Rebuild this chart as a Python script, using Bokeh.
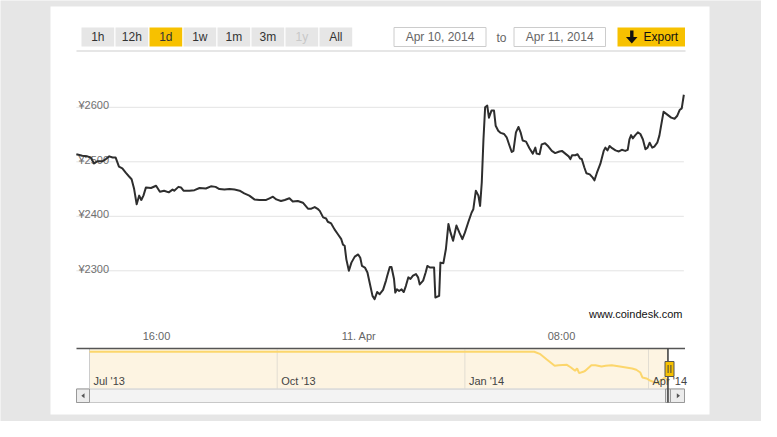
import pandas as pd
from bokeh.plotting import figure
from bokeh.models import Range1d
from bokeh.core.properties import value
from bokeh.embed import file_html
from bokeh.resources import INLINE

# ---------------- data ----------------
start_time = "2014-04-10 12:50"
minutes = [0, 14, 26, 34, 42, 50, 62, 70, 78, 86, 93, 101, 109, 117, 125, 131, 137, 143, 149, 154,
           159, 165, 177, 189, 198, 208, 219, 228, 232, 242, 248, 254, 268, 280, 292, 307, 319, 330,
           339, 351, 363, 375, 387, 398, 410, 422, 434, 450, 458, 466, 474, 485, 494, 505, 513, 525,
           537, 549, 557, 565, 573, 577, 585, 592, 596, 604, 612, 620, 628, 632, 636, 640, 646, 652,
           660, 668, 673, 677, 684, 690, 695, 702, 707, 713, 719, 727, 734, 737, 743, 747, 753, 756,
           760, 765, 771, 776, 781, 787, 792, 798, 805, 810, 814, 822, 828, 832, 838, 848, 851, 860,
           863, 870, 876, 882, 887, 893, 901, 908, 915, 921, 929, 937, 941, 947, 953, 957, 961, 965,
           969, 974, 978, 984, 990, 994, 1000, 1006, 1014, 1020, 1027, 1032, 1036, 1042, 1048, 1053,
           1058, 1066, 1074, 1082, 1088, 1091, 1098, 1103, 1111, 1119, 1127, 1135, 1145, 1151, 1159,
           1167, 1171, 1175, 1183, 1188, 1194, 1198, 1204, 1209, 1217, 1224, 1228, 1234, 1242, 1250,
           1254, 1259, 1264, 1270, 1278, 1286, 1293, 1301, 1307, 1311, 1315, 1319, 1325, 1331, 1337,
           1343, 1349, 1354, 1359, 1365, 1370, 1377, 1382, 1386, 1392, 1400, 1410, 1418, 1424, 1430,
           1435, 1440]
prices = [2514, 2511, 2510, 2508, 2497, 2501, 2501, 2505, 2510, 2508, 2508, 2491, 2488, 2480, 2473,
          2468, 2450, 2422, 2438, 2430, 2438, 2453, 2452, 2456, 2445, 2447, 2444, 2449, 2447, 2454,
          2453, 2447, 2447, 2448, 2452, 2451, 2455, 2454, 2450, 2449, 2450, 2449, 2447, 2442, 2438,
          2431, 2430, 2430, 2433, 2436, 2431, 2428, 2430, 2433, 2427, 2428, 2425, 2414, 2414, 2417,
          2413, 2410, 2398, 2396, 2390, 2387, 2376, 2367, 2358, 2348, 2346, 2321, 2300, 2315, 2326,
          2330, 2324, 2309, 2306, 2297, 2279, 2254, 2248, 2261, 2257, 2265, 2282, 2291, 2307, 2307,
          2285, 2260, 2266, 2263, 2266, 2261, 2272, 2288, 2285, 2291, 2294, 2288, 2275, 2282, 2297,
          2309, 2306, 2306, 2251, 2254, 2315, 2314, 2340, 2386, 2370, 2355, 2383, 2370, 2358, 2370,
          2389, 2407, 2413, 2447, 2438, 2419, 2462, 2541, 2600, 2603, 2581, 2594, 2594, 2566, 2557,
          2553, 2551, 2545, 2529, 2518, 2520, 2554, 2564, 2554, 2539, 2537, 2525, 2515, 2526, 2515,
          2514, 2532, 2534, 2528, 2520, 2516, 2519, 2520, 2515, 2510, 2505, 2512, 2512, 2514, 2506,
          2505, 2490, 2479, 2477, 2471, 2466, 2480, 2496, 2520, 2526, 2521, 2529, 2525, 2521, 2519,
          2522, 2520, 2522, 2541, 2549, 2543, 2549, 2554, 2551, 2541, 2523, 2526, 2535, 2526, 2528,
          2535, 2548, 2566, 2592, 2587, 2581, 2579, 2584, 2595, 2598, 2623]

price_ticks = [2300, 2400, 2500, 2600]
price_tick_labels = ["¥2300", "¥2400", "¥2500", "¥2600"]
time_ticks = ["2014-04-10 16:00", "2014-04-11 00:00", "2014-04-11 08:00"]
time_tick_labels = ["16:00", "11. Apr", "08:00"]

nav_dates = ["2013-07-01", "2013-08-01", "2013-09-01", "2013-10-01", "2013-11-01", "2013-12-01",
             "2014-01-01", "2014-02-04", "2014-02-07", "2014-02-10", "2014-02-12", "2014-02-14",
             "2014-02-16", "2014-02-20", "2014-02-22", "2014-02-24", "2014-02-25", "2014-02-26",
             "2014-02-28", "2014-03-01", "2014-03-04", "2014-03-06", "2014-03-09", "2014-03-11",
             "2014-03-14", "2014-03-18", "2014-03-21", "2014-03-24", "2014-03-26", "2014-03-28",
             "2014-03-29", "2014-03-31", "2014-04-02", "2014-04-05", "2014-04-07", "2014-04-09",
             "2014-04-11"]
nav_values = [4900, 4900, 4900, 4900, 4900, 4900, 4900, 4900, 4710, 4310, 4050, 3790, 3840, 3870,
              3660, 3400, 3580, 3210, 3320, 3400, 3840, 3840, 3740, 3790, 3840, 3740, 3660, 3580,
              3480, 3260, 2870, 2790, 2610, 2420, 2610, 2870, 2600]
nav_ticks = ["2013-07-01", "2013-10-01", "2014-01-01", "2014-04-01"]
nav_tick_labels = ["Jul '13", "Oct '13", "Jan '14", "Apr '14"]
nav_selection = ["2014-04-10 12:50", "2014-04-11 12:50"]

range_buttons = ["1h", "12h", "1d", "1w", "1m", "3m", "1y", "All"]
selected_button = "1d"
disabled_buttons = ["1y"]
date_from = "Apr 10, 2014"
date_to = "Apr 11, 2014"
credit = "www.coindesk.com"

# ---------------- helpers ----------------
def ms(s):
    return pd.Timestamp(s).value / 1e6

W, H = 761, 421
PX0, PX1 = 8, 8 + W      # page x covered by the canvas
PY0, PY1 = 8, 8 + H      # page y covered by the canvas

def xspan(v0, p0, v1, p1):
    k = (v1 - v0) / (p1 - p0)
    return Range1d(v0 + (PX0 - p0) * k, v0 + (PX1 - p0) * k)

def yspan(v0, p0, v1, p1):
    k = (v1 - v0) / (p1 - p0)
    return Range1d(v0 + (PY1 - p0) * k, v0 + (PY0 - p0) * k)

FONT = value("Liberation Sans")
t0 = pd.Timestamp(start_time)
times = [(t0 + pd.Timedelta(minutes=m)).value / 1e6 for m in minutes]

p = figure(width=W, height=H, output_backend="svg", toolbar_location=None,
           x_range=Range1d(PX0, PX1), y_range=Range1d(PY1, PY0),
           x_axis_location=None, y_axis_location=None, title=None,
           min_border=0, min_border_left=0, min_border_right=0,
           min_border_top=0, min_border_bottom=0)
p.grid.grid_line_color = None
p.outline_line_color = None
p.background_fill_color = "#e6e6e6"
p.border_fill_color = "#e6e6e6"

p.extra_x_ranges = {
    "time": xspan(ms(time_ticks[0]), 164, ms(time_ticks[2]), 569),
    "nav": xspan(ms(nav_ticks[0]), 97, ms(nav_ticks[3]), 656),
}
p.extra_y_ranges = {
    "price": yspan(2600, 114.8, 2500, 169.3),
    "navy": yspan(2000, 396, 5000, 358),
}

# white panel
p.quad(left=[58], right=[717], top=[14], bottom=[422], fill_color="white", line_color=None)

# ---------------- range selector ----------------
bx = [89 + i * 34 for i in range(len(range_buttons))]
bcol = ["#f7c100" if b == selected_button else "#e6e6e6" for b in range_buttons]
tcol = ["#c8c8c8" if b in disabled_buttons else "#333333" for b in range_buttons]
p.quad(left=bx, right=[x + 32.7 for x in bx], top=[35] * len(bx), bottom=[54] * len(bx),
       fill_color=bcol, line_color=None)
p.text(x=[x + 16.35 for x in bx], y=[44.8] * len(bx), text=range_buttons, text_color=tcol,
       text_font=FONT, text_font_size="12px", text_align="center", text_baseline="middle")

# date inputs
p.quad(left=[401.5, 521.5], right=[493.5, 613], top=[35, 35], bottom=[54, 54],
       fill_color="white", line_color="#cccccc", line_width=1)
p.text(x=[447.5, 567.2], y=[44.8, 44.8], text=[date_from, date_to], text_color="#666666",
       text_font=FONT, text_font_size="12px", text_align="center", text_baseline="middle")
p.text(x=[509], y=[45.5], text=["to"], text_color="#666666", text_font=FONT,
       text_font_size="12px", text_align="center", text_baseline="middle")

# export button
p.quad(left=[625], right=[692.5], top=[35], bottom=[54], fill_color="#f7c100", line_color=None)
p.quad(left=[637.6], right=[641], top=[38], bottom=[45], fill_color="#111111", line_color=None)
p.patch(x=[633.5, 645, 639.3], y=[44.5, 44.5, 51], fill_color="#111111", line_color=None)
p.text(x=[651], y=[44.8], text=["Export"], text_color="#111111", text_font=FONT,
       text_font_size="12px", text_align="left", text_baseline="middle")

# separator under selector
p.segment(x0=[84], x1=[693], y0=[58.5], y1=[58.5], line_color="#e6e6e6", line_width=2)

# ---------------- main chart ----------------
tstart, tend = times[0], times[-1]
p.segment(x0=[tstart] * 4, x1=[tend] * 4, y0=price_ticks, y1=price_ticks,
          x_range_name="time", y_range_name="price", line_color="#e3e3e3", line_width=1)
p.text(x=[86] * 4, y=price_ticks, text=price_tick_labels, y_range_name="price",
       text_color="#707070", text_font=FONT, text_font_size="11px", text_align="left",
       text_baseline="alphabetic", y_offset=-2)
p.line(times, prices, x_range_name="time", y_range_name="price",
       line_color="#2e2e2e", line_width=2, line_join="round")
p.text(x=[ms(t) for t in time_ticks], y=[343] * 3, text=time_tick_labels, x_range_name="time",
       text_color="#666666", text_font=FONT, text_font_size="11px", text_align="center",
       text_baseline="middle")
p.text(x=[690], y=[321], text=[credit], text_color="#111111", text_font=FONT,
       text_font_size="11px", text_align="right", text_baseline="middle")

# ---------------- navigator ----------------
sel_x = ms(nav_selection[0])
nav_start = ms(nav_dates[0])
p.quad(left=[nav_start], right=[sel_x], top=[356.5], bottom=[396], x_range_name="nav",
       fill_color="#fdf4e2", line_color=None)
p.segment(x0=[ms(t) for t in nav_ticks], x1=[ms(t) for t in nav_ticks], y0=[357] * 4, y1=[396] * 4,
          x_range_name="nav", line_color="#e2ddd2", line_width=1)
p.segment(x0=[nav_start], x1=[nav_start], y0=[356], y1=[396], x_range_name="nav",
          line_color="#cccccc", line_width=1)
p.line([ms(d) for d in nav_dates], nav_values, x_range_name="nav", y_range_name="navy",
       line_color="#fcd66c", line_width=2)
p.segment(x0=[84], x1=[692.5], y0=[356], y1=[356], line_color="#555555", line_width=1.3)
p.text(x=[ms(t) for t in nav_ticks], y=[388] * 4, text=nav_tick_labels, x_range_name="nav",
       x_offset=4, text_color="#444444", text_font=FONT, text_font_size="11px",
       text_align="left", text_baseline="middle")

# scrollbar
p.quad(left=[84], right=[692], top=[396.5], bottom=[410], fill_color="#f3f3f3",
       line_color="#c8c8c8", line_width=1)
p.quad(left=[84, 673, 678], right=[97, 678, 692], top=[396.5] * 3, bottom=[410] * 3,
       fill_color=["#ececec", "#e4e4e4", "#ececec"], line_color="#999999", line_width=1)
p.patch(x=[88.8, 92, 92], y=[403.2, 400.7, 405.7], fill_color="#555555", line_color=None)
p.patch(x=[687.5, 684.3, 684.3], y=[403.2, 400.7, 405.7], fill_color="#555555", line_color=None)

# selection handle
p.segment(x0=[sel_x], x1=[sel_x], y0=[356], y1=[410], x_range_name="nav",
          line_color="#444444", line_width=1.6)
p.quad(left=[672.5], right=[681.5], top=[369], bottom=[384], fill_color="#f7c100",
       line_color="#555555", line_width=1)
p.segment(x0=[675.6, 678.4], x1=[675.6, 678.4], y0=[372.5, 372.5], y1=[380.5, 380.5],
          line_color="#444444", line_width=1)

html = file_html(p, INLINE, title="coindesk")
html = html.replace("<body>", '<body style="background:#e6e6e6;">', 1)
open("out.html", "w").write(html)
